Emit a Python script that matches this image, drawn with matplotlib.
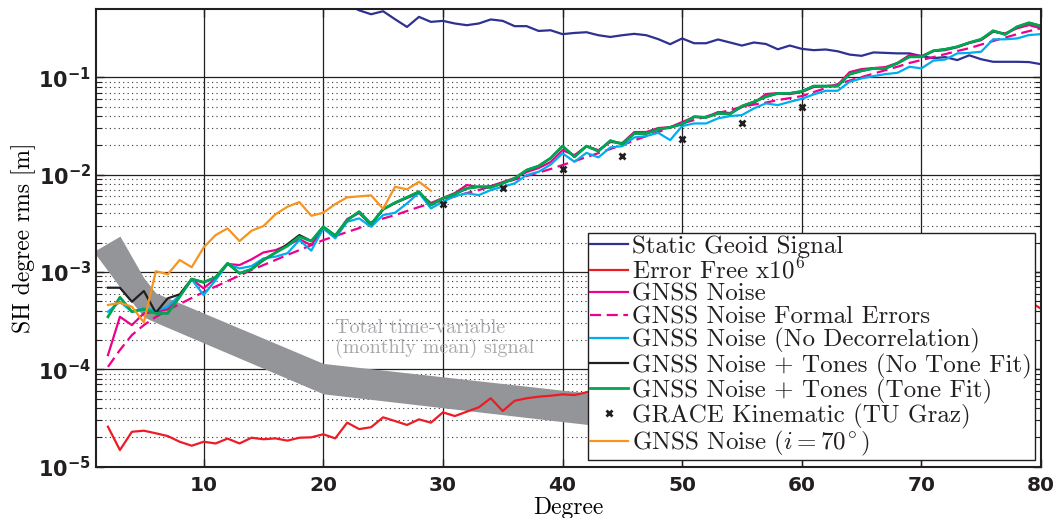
import matplotlib
matplotlib.use('Agg')
import matplotlib.pyplot as plt
from matplotlib.ticker import FixedLocator, NullFormatter, NullLocator
import numpy as np

# ---- data ----
deg = np.arange(2, 81)

static_deg = np.arange(22, 81)
static_geoid = [0.56, 0.49, 0.447, 0.48, 0.397, 0.331, 0.420, 0.373, 0.382, 0.359,
                0.345, 0.359, 0.395, 0.382, 0.337, 0.337, 0.301, 0.306, 0.279, 0.287,
                0.292, 0.272, 0.261, 0.272, 0.281, 0.272, 0.248, 0.220, 0.252, 0.225,
                0.225, 0.246, 0.229, 0.213, 0.229, 0.221, 0.195, 0.213, 0.197, 0.191,
                0.194, 0.186, 0.172, 0.167, 0.181, 0.179, 0.177, 0.177, 0.166, 0.158,
                0.162, 0.151, 0.169, 0.154, 0.145, 0.145, 0.145, 0.144, 0.137]

# error free run (x1e6), middle part hidden by the legend
error_deg = np.r_[np.arange(2, 43), 79, 80]
error_free = [2.57e-5, 1.48e-5, 2.28e-5, 2.34e-5, 2.20e-5, 2.06e-5, 1.80e-5, 1.64e-5, 1.80e-5, 1.73e-5,
              1.94e-5, 1.73e-5, 1.98e-5, 1.91e-5, 1.95e-5, 1.85e-5, 1.98e-5, 2.00e-5, 2.15e-5, 1.95e-5,
              2.83e-5, 2.43e-5, 2.54e-5, 3.21e-5, 2.94e-5, 2.68e-5, 3.06e-5, 2.83e-5, 3.61e-5, 3.31e-5,
              3.67e-5, 4.07e-5, 5.04e-5, 3.73e-5, 4.75e-5, 5.04e-5, 5.23e-5, 5.35e-5, 5.53e-5, 5.44e-5,
              5.80e-5, 5.0e-4, 4.2e-4]

gnss_noise = [1.40e-4, 3.47e-4, 2.85e-4, 3.76e-4, 3.91e-4, 4.14e-4, 5.67e-4, 8.41e-4, 6.80e-4, 8.61e-4,
              1.21e-3, 1.18e-3, 1.35e-3, 1.59e-3, 1.68e-3, 1.89e-3, 2.17e-3, 1.89e-3, 2.81e-3, 2.31e-3,
              3.51e-3, 4.04e-3, 3.04e-3, 4.44e-3, 5.12e-3, 5.77e-3, 6.49e-3, 5.12e-3, 5.77e-3, 6.49e-3,
              7.84e-3, 7.48e-3, 7.65e-3, 8.41e-3, 9.25e-3, 1.066e-2, 1.172e-2, 1.35e-2, 1.79e-2, 1.59e-2,
              1.97e-2, 1.79e-2, 2.17e-2, 2.12e-2, 2.75e-2, 2.75e-2, 3.02e-2, 3.09e-2, 3.48e-2, 3.92e-2,
              3.92e-2, 4.41e-2, 4.31e-2, 4.96e-2, 5.46e-2, 6.75e-2, 6.92e-2, 6.75e-2, 7.08e-2, 7.97e-2,
              8.16e-2, 8.36e-2, 0.1136, 0.122, 0.125, 0.128, 0.141, 0.170, 0.166, 0.187,
              0.191, 0.205, 0.226, 0.242, 0.295, 0.284, 0.320, 0.346, 0.320]

formal_errors = [1.06e-4, 1.58e-4, 2.25e-4, 2.85e-4, 3.45e-4, 4.07e-4, 4.69e-4, 5.41e-4, 6.23e-4, 7.10e-4,
                 8.08e-4, 9.21e-4, 1.05e-3, 1.18e-3, 1.33e-3, 1.50e-3, 1.68e-3, 1.89e-3, 2.13e-3, 2.34e-3,
                 2.58e-3, 2.83e-3, 3.26e-3, 3.55e-3, 3.85e-3, 4.24e-3, 4.66e-3, 5.08e-3, 5.50e-3, 5.97e-3,
                 6.49e-3, 6.96e-3, 7.56e-3, 8.22e-3, 8.93e-3, 9.70e-3, 1.054e-2, 1.145e-2, 1.26e-2, 1.38e-2,
                 1.52e-2, 1.67e-2, 1.84e-2, 2.02e-2, 2.25e-2, 2.50e-2, 2.75e-2, 3.06e-2, 3.37e-2, 3.65e-2,
                 3.96e-2, 4.31e-2, 4.62e-2, 5.00e-2, 5.27e-2, 5.52e-2, 5.86e-2, 6.14e-2, 6.44e-2, 7.08e-2,
                 7.78e-2, 8.55e-2, 9.29e-2, 0.1009, 0.1096, 0.119, 0.129, 0.141, 0.151, 0.162,
                 0.174, 0.187, 0.200, 0.218, 0.237, 0.257, 0.279, 0.300, 0.320]

no_decorr = [3.91e-4, 4.95e-4, 3.91e-4, 4.24e-4, 4.00e-4, 4.40e-4, 5.80e-4, 8.41e-4, 5.80e-4, 8.28e-4,
             1.21e-3, 1.09e-3, 1.15e-3, 1.38e-3, 1.44e-3, 1.56e-3, 2.13e-3, 1.66e-3, 2.81e-3, 2.22e-3,
             3.29e-3, 3.56e-3, 2.92e-3, 3.85e-3, 4.07e-3, 5.08e-3, 6.53e-3, 4.51e-3, 5.28e-3, 6.04e-3,
             6.44e-3, 6.18e-3, 6.96e-3, 7.53e-3, 8.16e-3, 9.93e-3, 1.074e-2, 1.27e-2, 1.66e-2, 1.36e-2,
             1.68e-2, 1.51e-2, 1.91e-2, 1.97e-2, 2.42e-2, 2.50e-2, 2.70e-2, 2.27e-2, 3.17e-2, 3.37e-2,
             3.37e-2, 3.80e-2, 4.01e-2, 4.11e-2, 4.81e-2, 5.42e-2, 5.20e-2, 5.62e-2, 6.04e-2, 6.70e-2,
             7.30e-2, 7.30e-2, 9.04e-2, 9.79e-2, 0.1033, 0.1084, 0.1117, 0.129, 0.124, 0.149,
             0.153, 0.177, 0.179, 0.184, 0.247, 0.247, 0.252, 0.273, 0.279]

no_tone_fit = [6.90e-4, 6.90e-4, 4.95e-4, 6.38e-4, 3.82e-4, 5.37e-4, 5.90e-4, 8.48e-4, 7.84e-4, 8.83e-4,
               1.23e-3, 9.70e-4, 1.07e-3, 1.33e-3, 1.58e-3, 1.93e-3, 2.40e-3, 2.08e-3, 2.92e-3, 2.37e-3,
               3.42e-3, 4.17e-3, 3.11e-3, 4.41e-3, 5.16e-3, 5.86e-3, 6.69e-3, 4.88e-3, 5.72e-3, 6.33e-3,
               7.25e-3, 7.53e-3, 7.42e-3, 8.16e-3, 9.18e-3, 1.117e-2, 1.23e-2, 1.48e-2, 1.97e-2, 1.53e-2,
               1.97e-2, 1.75e-2, 2.24e-2, 2.07e-2, 2.66e-2, 2.66e-2, 2.93e-2, 3.07e-2, 3.32e-2, 3.95e-2,
               3.89e-2, 4.28e-2, 4.21e-2, 5.08e-2, 5.62e-2, 6.34e-2, 6.87e-2, 6.87e-2, 7.20e-2, 8.16e-2,
               8.16e-2, 8.16e-2, 0.108, 0.117, 0.124, 0.124, 0.140, 0.163, 0.163, 0.188,
               0.195, 0.207, 0.228, 0.247, 0.302, 0.277, 0.332, 0.365, 0.338]

tone_fit = [3.47e-4, 5.50e-4, 3.91e-4, 4.14e-4, 3.76e-4, 3.76e-4, 5.57e-4, 8.48e-4, 7.84e-4, 8.83e-4,
            1.23e-3, 9.70e-4, 1.07e-3, 1.33e-3, 1.58e-3, 1.85e-3, 2.31e-3, 2.08e-3, 2.92e-3, 2.37e-3,
            3.42e-3, 4.17e-3, 3.11e-3, 4.41e-3, 5.16e-3, 5.86e-3, 6.69e-3, 4.88e-3, 5.72e-3, 6.33e-3,
            7.25e-3, 7.53e-3, 7.42e-3, 8.16e-3, 9.18e-3, 1.117e-2, 1.23e-2, 1.48e-2, 1.97e-2, 1.53e-2,
            1.97e-2, 1.75e-2, 2.24e-2, 2.07e-2, 2.66e-2, 2.66e-2, 2.93e-2, 3.07e-2, 3.32e-2, 3.95e-2,
            3.89e-2, 4.28e-2, 4.21e-2, 5.08e-2, 5.62e-2, 6.34e-2, 6.87e-2, 6.87e-2, 7.20e-2, 8.16e-2,
            8.16e-2, 8.16e-2, 0.108, 0.117, 0.124, 0.124, 0.140, 0.163, 0.163, 0.188,
            0.195, 0.207, 0.228, 0.247, 0.302, 0.277, 0.332, 0.365, 0.338]

grace_deg = [30, 35, 40, 45, 50, 55, 60]
grace_kin = [5.00e-3, 7.35e-3, 1.137e-2, 1.57e-2, 2.33e-2, 3.37e-2, 5.00e-2]

incl_deg = np.arange(2, 30)
incl_70 = [4.58e-4, 4.83e-4, 4.40e-4, 3.04e-4, 1.02e-3, 9.5e-4, 1.33e-3, 1.12e-3, 1.79e-3, 2.40e-3,
           2.81e-3, 2.08e-3, 2.66e-3, 2.97e-3, 3.92e-3, 4.69e-3, 5.24e-3, 3.79e-3, 4.07e-3, 5.00e-3,
           5.86e-3, 6.00e-3, 6.14e-3, 4.47e-3, 7.53e-3, 7.08e-3, 8.47e-3, 6.85e-3]

# total time-variable signal band
band_deg = [1, 3, 5, 6, 20, 40, 50]
band_hi = [1.68e-3, 2.34e-3, 8.7e-4, 6.1e-4, 1.15e-4, 6.1e-5, 4.5e-5]
band_lo = [1.50e-3, 7.0e-4, 3.45e-4, 3.03e-4, 5.6e-5, 2.9e-5, 2.1e-5]

ytick_vals = [1e-5, 1e-4, 1e-3, 1e-2, 1e-1]
ytick_labels = [r'$\mathbf{10^{-5}}$', r'$\mathbf{10^{-4}}$', r'$\mathbf{10^{-3}}$',
                r'$\mathbf{10^{-2}}$', r'$\mathbf{10^{-1}}$']
xtick_vals = [10, 20, 30, 40, 50, 60, 70, 80]

# ---- style ----
plt.rcParams.update({
    'font.family': 'cmr10',
    'mathtext.fontset': 'custom',
    'mathtext.rm': 'cmr10',
    'mathtext.it': 'cmmi10',
    'mathtext.bf': 'DejaVu Sans:bold',
    'axes.formatter.use_mathtext': True,
    'text.color': '#231f20',
})

fig = plt.figure(figsize=(10.57, 5.18), dpi=100)
ax = fig.add_axes([96 / 1057, 51.4 / 518, 945 / 1057, 457.1 / 518])

ax.fill_between(band_deg, band_lo, band_hi, color='#939598', lw=0, zorder=2)

lw = 1.6
ax.plot(static_deg, static_geoid, color='#2e3192', lw=lw, label='Static Geoid Signal')
ax.plot(error_deg, error_free, color='#ed1c24', lw=lw, label=r'Error Free x10$^6$')
ax.plot(deg, gnss_noise, color='#ec008c', lw=lw, label='GNSS Noise')
ax.plot(deg, formal_errors, color='#ec008c', lw=lw, ls=(0, (5, 2.5)), label='GNSS Noise Formal Errors')
ax.plot(deg, no_decorr, color='#00aeef', lw=lw, label='GNSS Noise (No Decorrelation)')
ax.plot(deg, no_tone_fit, color='#231f20', lw=lw, label='GNSS Noise + Tones (No Tone Fit)')
ax.plot(deg, tone_fit, color='#00a651', lw=2.0, label='GNSS Noise + Tones (Tone Fit)')
ax.plot(grace_deg, grace_kin, ls='none', marker='x', ms=5, mew=2, color='#231f20',
        label='GRACE Kinematic (TU Graz)')
ax.plot(incl_deg, incl_70, color='#f7941d', lw=lw, label=r'GNSS Noise ($i = 70^{\!\circ}$)')

ax.text(21.0, 2.07e-4, 'Total time-variable\n(monthly mean) signal', color='#a7a9ac',
        fontsize=14.5, ha='left', va='center', linespacing=1.05, zorder=3)

ax.set_yscale('log')
ax.set_xlim(1, 80)
ax.set_ylim(1e-5, 0.5)

ax.set_xticks(xtick_vals, labels=[str(v) for v in xtick_vals], fontsize=14.5,
              fontweight='bold', fontfamily='DejaVu Sans')
ax.xaxis.set_minor_locator(NullLocator())
ax.set_yticks(ytick_vals, labels=ytick_labels, fontsize=15)
ax.yaxis.set_minor_locator(FixedLocator([m * 10.0 ** e for e in range(-5, -1) for m in range(2, 10)]))
ax.yaxis.set_minor_formatter(NullFormatter())

ax.grid(True, which='major', color='#231f20', lw=0.9, ls='-')
ax.grid(True, which='minor', axis='y', color='#333333', lw=0.8, ls=(0, (1, 3)))
ax.set_axisbelow(True)

ax.tick_params(which='both', direction='in', top=True, right=True, colors='#231f20')
ax.tick_params(which='major', length=6, width=1)
ax.tick_params(axis='x', which='major', pad=7)
ax.tick_params(axis='y', which='major', pad=3.5)
ax.tick_params(which='minor', length=4, width=0.8)
for s in ax.spines.values():
    s.set_linewidth(1.5)
    s.set_color('#231f20')

ax.set_ylabel('SH degree rms [m]', fontsize=17, labelpad=1.5)
ax.set_xlabel('Degree', fontsize=17, labelpad=1)

leg = ax.legend(loc='lower right', fontsize=18, frameon=True, fancybox=False, framealpha=1,
                edgecolor='#231f20', borderpad=0.1, labelspacing=0.0, handlelength=1.5,
                handletextpad=0.2, borderaxespad=0.25)
leg.get_frame().set_linewidth(1.0)

fig.savefig('out.png', dpi=100)
